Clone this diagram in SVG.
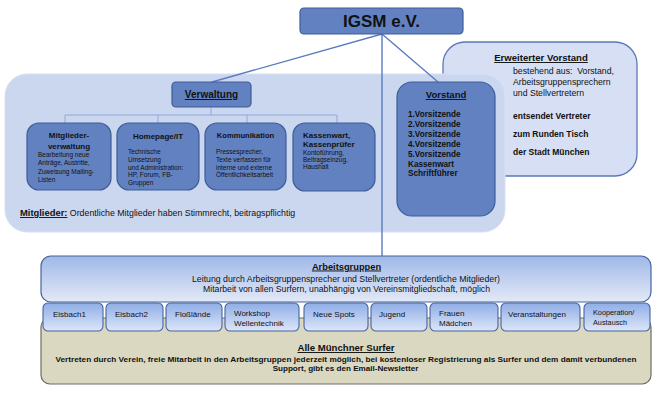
<svg xmlns="http://www.w3.org/2000/svg" width="655" height="403" viewBox="0 0 655 403">
<defs>
<linearGradient id="gAG" x1="0" y1="0" x2="0" y2="1"><stop offset="0" stop-color="#9fb8e7"/><stop offset="1" stop-color="#e3e9f7"/></linearGradient>
<linearGradient id="gTab" x1="0" y1="0" x2="0" y2="1"><stop offset="0" stop-color="#8fade6"/><stop offset="1" stop-color="#dde6f8"/></linearGradient>
<style>
text{font-family:"Liberation Sans","DejaVu Sans",sans-serif;fill:#111}
.b{font-weight:bold}
.u{text-decoration:underline}
.dark{fill:#6281c1;stroke:#3e5c98;stroke-width:1.2}
.tree{stroke:#8eaadc;stroke-width:1;fill:none}
.conn{stroke:#5b7cc0;stroke-width:1.4;fill:none}
.tab{fill:url(#gTab);stroke:#46659f;stroke-width:1.1}
.sm{font-size:6.5px}
.ct{font-size:8px;font-weight:bold}
.vl{font-size:8.2px;font-weight:bold}
.ev{font-size:8.7px}
.tt{font-size:8px}
</style>
</defs>
<rect width="655" height="403" fill="#fff"/>

<g id="erweiterter-vorstand">
<rect x="443" y="42" width="194" height="134" rx="22" fill="#d6dff3" stroke="#5b78b5" stroke-width="1.3"/>
<text x="541" y="61" text-anchor="middle" class="b u" font-size="9.6">Erweiterter Vorstand</text>
<text x="513" y="74" class="ev">bestehend aus:&#160; Vorstand,</text>
<text x="513" y="85" class="ev">Arbeitsgruppensprechern</text>
<text x="513" y="96" class="ev">und Stellvertretern</text>
<text x="513" y="119" class="b" font-size="8.5">entsendet Vertreter</text>
<text x="513" y="137" class="b" font-size="8.5">zum Runden Tisch</text>
<text x="513" y="155" class="b" font-size="8.5">der Stadt München</text>
</g>

<g id="mitglieder">
<rect x="5" y="74" width="500" height="158" rx="22" fill="#cbd6ef" stroke="#d8e0f3" stroke-width="1"/>
<text x="20" y="216" font-size="8.8"><tspan class="b u" font-size="9.4">Mitglieder:</tspan> Ordentliche Mitglieder haben Stimmrecht, beitragspflichtig</text>
</g>

<g id="connectors">
<path class="tree" d="M211 107V115M65 115H337M65 115V123M158 115V123M247 115V123M337 115V123"/>
<path class="conn" d="M382 34L212 82M382 34L438 82M382 34V256"/>
</g>

<g id="igsm">
<rect x="300" y="8" width="163" height="26" rx="4" class="dark"/>
<text x="381.5" y="27" text-anchor="middle" class="b" font-size="17">IGSM e.V.</text>
</g>

<g id="verwaltung">
<rect x="172" y="82" width="79" height="25" rx="4" class="dark"/>
<text x="211.5" y="98" text-anchor="middle" class="b u" font-size="10">Verwaltung</text>
</g>

<g id="mitgliederverwaltung">
<rect x="27" y="123" width="84" height="67" rx="12" class="dark"/>
<text x="69" y="138" text-anchor="middle" class="ct">Mitglieder-</text>
<text x="69" y="149" text-anchor="middle" class="ct">verwaltung</text>
<text x="38" y="157" class="sm">Bearbeitung neue</text>
<text x="38" y="165" class="sm">Anträge, Austritte,</text>
<text x="38" y="174" class="sm">Zuweisung Mailing-</text>
<text x="38" y="182" class="sm">Listen</text>
</g>

<g id="homepage">
<rect x="117" y="123" width="82" height="67" rx="12" class="dark"/>
<text x="158" y="139" text-anchor="middle" class="ct">Homepage/IT</text>
<text x="128" y="154" class="sm">Technische</text>
<text x="128" y="162" class="sm">Umsetzung</text>
<text x="128" y="170" class="sm">und Administration:</text>
<text x="128" y="177" class="sm">HP, Forum, FB-</text>
<text x="128" y="185" class="sm">Gruppen</text>
</g>

<g id="kommunikation">
<rect x="205" y="123" width="81" height="67" rx="12" class="dark"/>
<text x="245.5" y="138" text-anchor="middle" class="b" font-size="7.6">Kommunikation</text>
<text x="216" y="154" class="sm">Pressesprecher,</text>
<text x="216" y="162" class="sm">Texte verfassen für</text>
<text x="216" y="170" class="sm">interne und externe</text>
<text x="216" y="177" class="sm">Öffentlichkeitsarbeit</text>
</g>

<g id="kassenwart">
<rect x="293" y="123" width="82" height="68" rx="12" class="dark"/>
<text x="303" y="138" class="ct">Kassenwart,</text>
<text x="303" y="147" class="ct">Kassenprüfer</text>
<text x="303" y="155" class="sm">Kontoführung,</text>
<text x="303" y="162" class="sm">Beitragseinzug,</text>
<text x="303" y="169" class="sm">Haushalt</text>
</g>

<g id="vorstand">
<rect x="397" y="82" width="98" height="134" rx="15" class="dark"/>
<text x="446" y="98" text-anchor="middle" class="b u" font-size="9.5">Vorstand</text>
<text x="408" y="117" class="vl">1.Vorsitzende</text>
<text x="408" y="127" class="vl">2.Vorsitzende</text>
<text x="408" y="137" class="vl">3.Vorsitzende</text>
<text x="408" y="147" class="vl">4.Vorsitzende</text>
<text x="408" y="157" class="vl">5.Vorsitzende</text>
<text x="408" y="167" class="vl">Kassenwart</text>
<text x="408" y="176" class="vl">Schriftführer</text>
</g>

<g id="alle-surfer">
<rect x="41" y="318" width="610" height="66" rx="9" fill="#dbd8c2" stroke="#6e6d60" stroke-width="1.2"/>
<text x="346" y="351" text-anchor="middle" class="b u" font-size="9.6">Alle Münchner Surfer</text>
<text x="346" y="362" text-anchor="middle" class="b" font-size="8" textLength="581" lengthAdjust="spacingAndGlyphs">Vertreten durch Verein, freie Mitarbeit in den Arbeitsgruppen jederzeit möglich, bei kostenloser Registrierung als Surfer und dem damit verbundenen</text>
<text x="345.5" y="371" text-anchor="middle" class="b" font-size="8.1">Support, gibt es den Email-Newsletter</text>
</g>

<g id="arbeitsgruppen">
<rect x="41" y="256" width="610" height="46" rx="10" fill="url(#gAG)" stroke="#46659f" stroke-width="1.2"/>
<text x="346.5" y="269.5" text-anchor="middle" class="b u" font-size="9.3">Arbeitsgruppen</text>
<text x="346" y="282" text-anchor="middle" font-size="8.7" textLength="308" lengthAdjust="spacingAndGlyphs">Leitung durch Arbeitsgruppensprecher und Stellvertreter (ordentliche Mitglieder)</text>
<text x="346.5" y="292" text-anchor="middle" font-size="8.7" textLength="287" lengthAdjust="spacingAndGlyphs">Mitarbeit von allen Surfern, unabhängig von Vereinsmitgliedschaft, möglich</text>
</g>

<g id="tab-eisbach1"><rect x="43" y="303" width="60" height="28" rx="5" class="tab"/><text x="53" y="317" class="tt">Eisbach1</text></g>
<g id="tab-eisbach2"><rect x="106" y="303" width="57" height="28" rx="5" class="tab"/><text x="115" y="317" class="tt">Eisbach2</text></g>
<g id="tab-flosslaende"><rect x="166" y="303" width="56" height="28" rx="5" class="tab"/><text x="175" y="317" class="tt">Floßlände</text></g>
<g id="tab-workshop"><rect x="225" y="303" width="74" height="28" rx="5" class="tab"/><text x="234" y="316" class="tt">Workshop</text><text x="234" y="326" class="tt">Wellentechnik</text></g>
<g id="tab-neue-spots"><rect x="304" y="303" width="64" height="28" rx="5" class="tab"/><text x="313" y="317" class="tt">Neue Spots</text></g>
<g id="tab-jugend"><rect x="371" y="303" width="56" height="28" rx="5" class="tab"/><text x="379" y="317" class="tt">Jugend</text></g>
<g id="tab-frauen"><rect x="430" y="303" width="68" height="28" rx="5" class="tab"/><text x="439" y="316" class="tt">Frauen</text><text x="439" y="326" class="tt">Mädchen</text></g>
<g id="tab-veranstaltungen"><rect x="501" y="303" width="79" height="28" rx="5" class="tab"/><text x="508" y="317" class="tt">Veranstaltungen</text></g>
<g id="tab-kooperation"><rect x="584" y="303" width="66" height="28" rx="5" class="tab"/><text x="593" y="315" font-size="7.3">Kooperation/</text><text x="593" y="325" font-size="7.3">Austausch</text></g>
</svg>
